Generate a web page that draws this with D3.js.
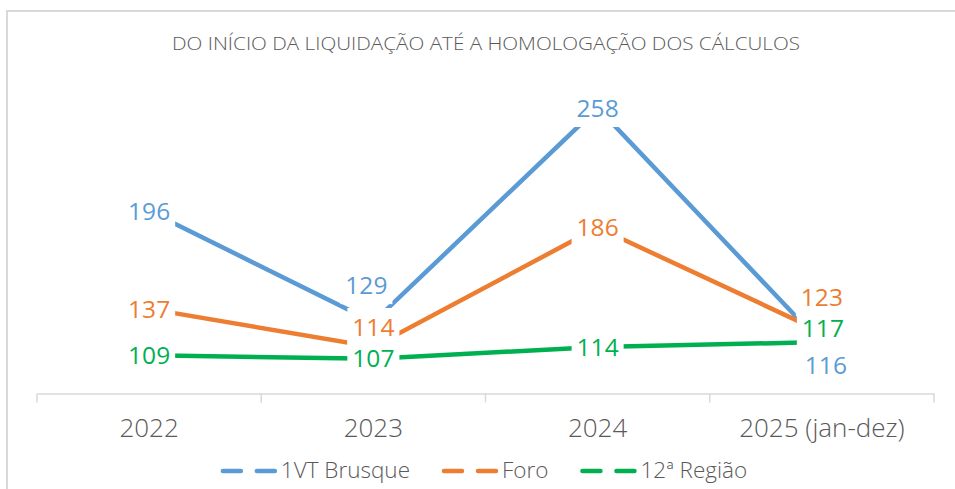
<!DOCTYPE html>
<html>
<head>
<meta charset="utf-8">
<script src="https://cdn.jsdelivr.net/npm/d3@7"></script>
<style>
  body { margin: 0; background: #fff; }
  svg { display: block; font-family: "Open Sans", "Noto Sans", sans-serif; }
</style>
</head>
<body>
<svg id="chart" width="955" height="489"></svg>
<script>
// chart data
const title = 'DO INÍCIO DA LIQUIDAÇÃO ATÉ A HOMOLOGAÇÃO DOS CÁLCULOS'
const categories = ['2022', '2023', '2024', '2025 (jan-dez)']
const seriesNames = ['1VT Brusque', 'Foro', '12ª Região']
const brusque = [196, 129, 258, 116]
const foro = [137, 114, 186, 123]
const regiao = [109, 107, 114, 117]

// look
const colors = ['#5B9BD5', '#ED7D31', '#00B050']
const textGray = '#595959'
const gridGray = '#d9d9d9'
// manual label nudges (dx, dy) per series / category, like in the source sheet
const labelNudge = [
  [[0, 0], [-7, -37], [0, 0], [4, 21]],
  [[0, 0], [0, -20], [0, 0], [0, -35]],
  [[0, 0], [0, 0], [0, 0], [1, -14]]
]

const svg = d3.select('#chart')

// outer frame
svg.append('rect')
  .attr('x', 7).attr('y', 11)
  .attr('width', 1000).attr('height', 1000)
  .attr('fill', 'none')
  .attr('stroke', gridGray)
  .attr('stroke-width', 2)

svg.append('text')
  .attr('x', 486).attr('y', 50)
  .attr('text-anchor', 'middle')
  .attr('font-size', 18.7)
  .attr('font-weight', 300)
  .attr('fill', textGray)
  .attr('textLength', 628)
  .attr('lengthAdjust', 'spacingAndGlyphs')
  .text(title)

let x = d3.scaleBand().domain(categories).range([37, 934])
let y = d3.scaleLinear().domain([86, 280]).range([393.5, 71.5])
let cx = c => x(c) + x.bandwidth() / 2

// category axis
let axis = svg.append('g')
  .attr('transform', 'translate(0,393.5)')
  .call(d3.axisBottom(x).tickSize(0).tickSizeOuter(0))
axis.select('.domain').attr('stroke', gridGray).attr('stroke-width', 1.5)
axis.selectAll('text')
  .attr('y', 43.5).attr('dy', null)
  .attr('font-family', '"Open Sans", sans-serif')
  .attr('font-size', 26)
  .attr('font-weight', 300)
  .attr('fill', textGray)

let edges = categories.map(c => x(c)).concat([x.range()[1]])
svg.append('g').selectAll('line')
  .data(edges)
  .enter()
  .append('line')
  .attr('x1', d => d).attr('x2', d => d)
  .attr('y1', 393.5).attr('y2', 402.5)
  .attr('stroke', gridGray)
  .attr('stroke-width', 1.5)

let series = [brusque, foro, regiao].map((vals, i) => ({
  name: seriesNames[i],
  color: colors[i],
  points: vals.map((v, j) => ({ cat: categories[j], value: v, nudge: labelNudge[i][j] }))
}))

let line = d3.line()
  .x(d => cx(d.cat))
  .y(d => y(d.value))

svg.append('g').selectAll('path')
  .data(series)
  .enter()
  .append('path')
  .attr('d', d => line(d.points))
  .attr('fill', 'none')
  .attr('stroke', d => d.color)
  .attr('stroke-width', 4.5)

// data labels with white boxes (they hide the line underneath)
let labels = svg.append('g')
series.forEach(s => {
  s.points.forEach(p => {
    let g = labels.append('g')
      .attr('transform', `translate(${cx(p.cat) + p.nudge[0]},${y(p.value) + p.nudge[1]})`)
    let box = g.append('rect').attr('fill', '#fff')
    let t = g.append('text')
      .attr('text-anchor', 'middle')
      .attr('dy', '0.36em')
      .attr('font-size', 24.5)
      .attr('fill', s.color)
      .text(p.value)
    let bb = t.node().getBBox()
    box.attr('x', bb.x - 5).attr('y', -19)
      .attr('width', bb.width + 10).attr('height', 38)
  })
})

// legend
let legend = svg.append('g')
let lx = 0
series.forEach((s, i) => {
  let item = legend.append('g').attr('transform', `translate(${lx},0)`)
  item.append('line')
    .attr('x1', 2).attr('x2', 55)
    .attr('y1', 471).attr('y2', 471)
    .attr('stroke', s.color)
    .attr('stroke-width', 4.5)
    .attr('stroke-linecap', 'round')
    .attr('stroke-dasharray', '18 16')
  let t = item.append('text')
    .attr('x', 60).attr('y', 478)
    .attr('font-size', 22.5)
    .attr('font-weight', 300)
    .attr('fill', textGray)
    .text(s.name)
  lx += 60 + t.node().getComputedTextLength() + 32
})
let legendWidth = lx - 32
legend.attr('transform', `translate(${484 - legendWidth / 2},0)`)
</script>
</body>
</html>
